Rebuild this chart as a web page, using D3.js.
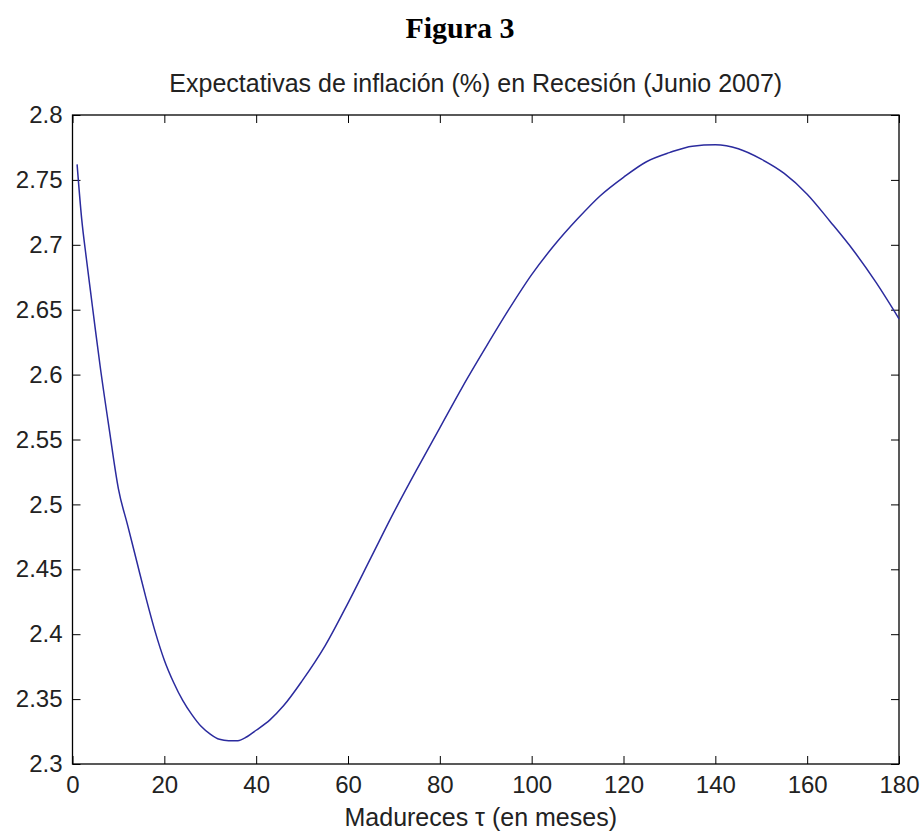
<!DOCTYPE html>
<html>
<head>
<meta charset="utf-8">
<script src="https://cdn.jsdelivr.net/npm/d3@7"></script>
<style>
  body { margin: 0; background: #fff; }
  svg text { fill: #222; }
</style>
</head>
<body>
<svg id="chart" width="921" height="833"></svg>
<script>
// maturity in months
const maturities = [1, 2, 3, 4, 5, 6, 8, 10, 12, 14, 16, 18, 20, 22, 24, 26, 28, 30, 32, 34, 36, 38, 40, 43, 46, 50,
  55, 60, 65, 70, 75, 80, 85, 90, 95, 100, 105, 110, 115, 120, 125, 130, 135, 140, 145, 150, 155, 160, 165, 170, 175, 180];
// inflation expectations (%)
const expectations = [2.762, 2.72, 2.69, 2.662, 2.634, 2.607, 2.558, 2.512, 2.484, 2.456, 2.428, 2.402, 2.38, 2.363, 2.349,
  2.338, 2.329, 2.323, 2.319, 2.318, 2.318, 2.321, 2.326, 2.334, 2.345, 2.364,
  2.391, 2.424, 2.459, 2.494, 2.527, 2.559, 2.591, 2.621, 2.65, 2.677, 2.70, 2.72, 2.738, 2.752, 2.764, 2.771, 2.776,
  2.777, 2.774, 2.766, 2.755, 2.739, 2.718, 2.696, 2.671, 2.643];
const xTicks = [0, 20, 40, 60, 80, 100, 120, 140, 160, 180];
const yTicks = [2.3, 2.35, 2.4, 2.45, 2.5, 2.55, 2.6, 2.65, 2.7, 2.75, 2.8];

const figTitle = "Figura 3";
const chartTitle = "Expectativas de inflación (%) en Recesión (Junio 2007)";
const xLabel = "Madureces τ (en meses)";

const svg = d3.select("#chart");
const plot = { left: 72.5, right: 899, top: 115, bottom: 764 };
const tickLen = 8;
const fontAxis = "Liberation Sans, Arial, sans-serif";

const x = d3.scaleLinear().domain([0, 180]).range([plot.left, plot.right]);
const y = d3.scaleLinear().domain([2.3, 2.8]).range([plot.bottom, plot.top]);

const data = maturities.map((m, i) => ({ m: m, v: expectations[i] }));

svg.append("text")
  .attr("x", 460).attr("y", 38)
  .attr("text-anchor", "middle")
  .style("font-family", "Liberation Serif, Times New Roman, serif")
  .style("font-weight", "bold")
  .style("font-size", "30px")
  .style("fill", "#000")
  .text(figTitle);

svg.append("text")
  .attr("x", (plot.left + plot.right) / 2 - 10).attr("y", 92)
  .attr("text-anchor", "middle")
  .style("font-family", fontAxis)
  .style("font-size", "25px")
  .text(chartTitle);

// axes: ticks inward, mirrored on the opposite side
const xb = svg.append("g").attr("transform", `translate(0,${plot.bottom})`)
  .call(d3.axisBottom(x).tickValues(xTicks).tickSize(-tickLen).tickPadding(12).tickFormat(d3.format("d")));
const xt = svg.append("g").attr("transform", `translate(0,${plot.top})`)
  .call(d3.axisTop(x).tickValues(xTicks).tickSize(-tickLen).tickFormat(""));
const yl = svg.append("g").attr("transform", `translate(${plot.left},0)`)
  .call(d3.axisLeft(y).tickValues(yTicks).tickSize(-tickLen).tickPadding(10).tickFormat(d => String(+d.toFixed(2))));
const yr = svg.append("g").attr("transform", `translate(${plot.right},0)`)
  .call(d3.axisRight(y).tickValues(yTicks).tickSize(-tickLen).tickFormat(""));

[xb, xt, yl, yr].forEach(g => {
  g.select(".domain").remove();
  g.selectAll(".tick line").attr("stroke", "#000");
  g.selectAll("text").style("font-family", fontAxis).style("font-size", "24px").attr("fill", "#222");
});

svg.append("rect")
  .attr("x", plot.left).attr("y", plot.top)
  .attr("width", plot.right - plot.left).attr("height", plot.bottom - plot.top)
  .attr("fill", "none").attr("stroke", "#000").attr("stroke-width", 1.3);

const line = d3.line()
  .x(d => x(d.m))
  .y(d => y(d.v))
  .curve(d3.curveMonotoneX);

svg.append("path")
  .datum(data)
  .attr("d", line)
  .attr("fill", "none")
  .attr("stroke", "#2b2b9e")
  .attr("stroke-width", 1.5);

svg.append("text")
  .attr("x", (plot.left + plot.right) / 2 - 5).attr("y", 826)
  .attr("text-anchor", "middle")
  .style("font-family", fontAxis)
  .style("font-size", "25px")
  .text(xLabel);
</script>
</body>
</html>
